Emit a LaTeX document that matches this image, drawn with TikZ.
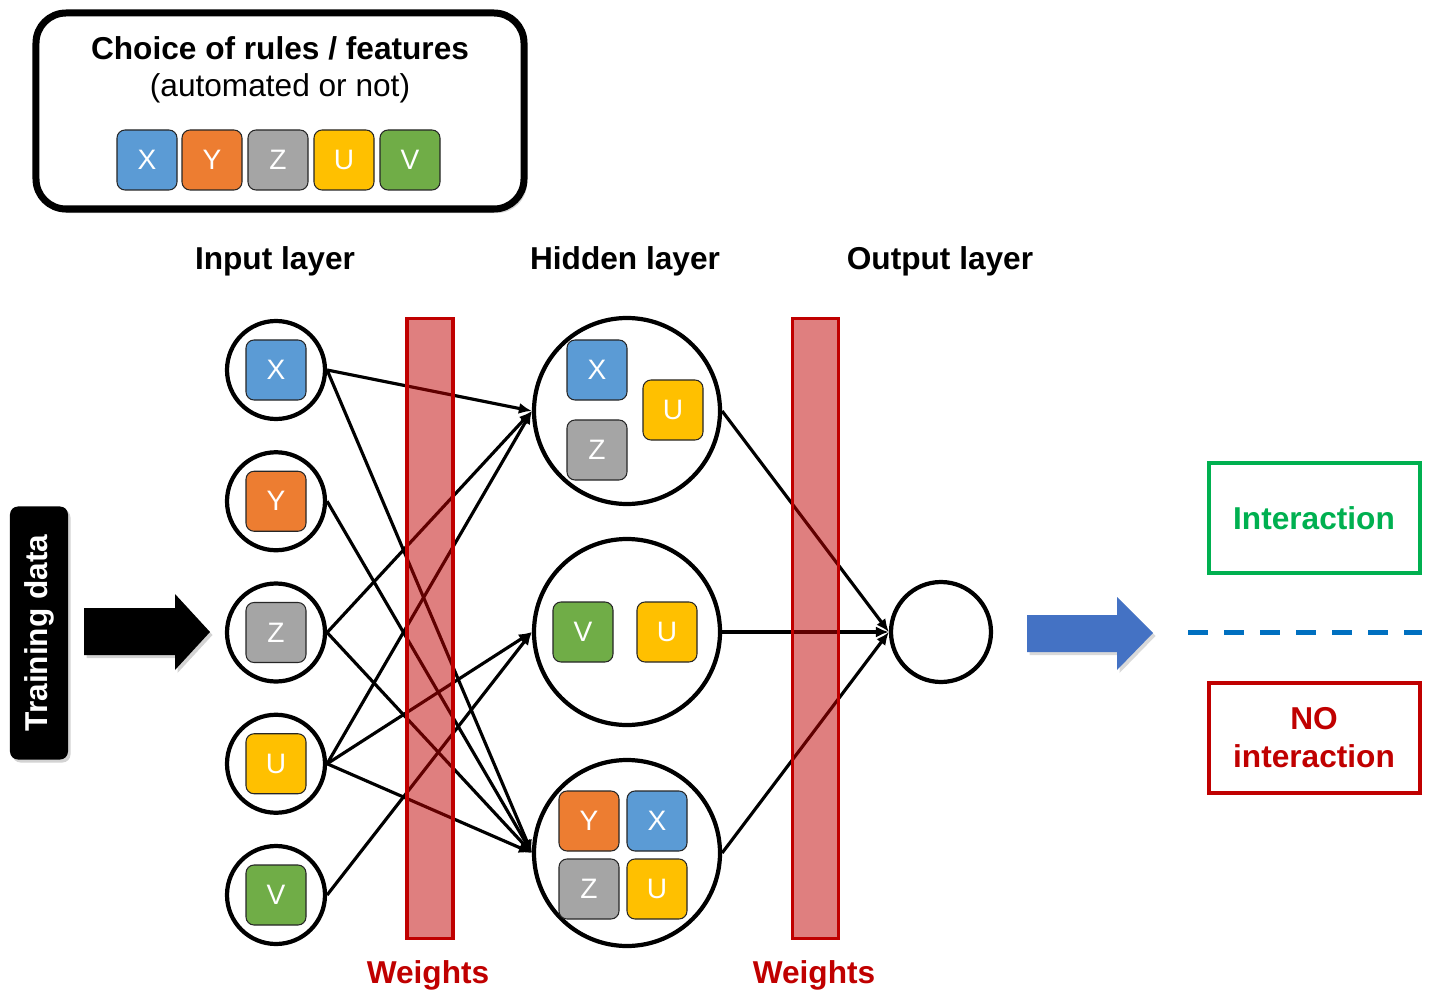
\documentclass[tikz,border=0pt]{standalone}
\usepackage{fontspec}
\setmainfont{Liberation Sans}
\usetikzlibrary{positioning,arrows.meta,shadows}

\definecolor{cX}{HTML}{5B9BD5}
\definecolor{cY}{HTML}{ED7D31}
\definecolor{cZ}{HTML}{A5A5A5}
\definecolor{cU}{HTML}{FFC000}
\definecolor{cV}{HTML}{70AD47}
\definecolor{wred}{HTML}{C00000}
\definecolor{igreen}{HTML}{00B050}
\definecolor{dblue}{HTML}{0070C0}
\definecolor{ablue}{HTML}{4472C4}

\tikzset{lbl/.style={font=\fontsize{18}{21.6}\selectfont\bfseries}}
\tikzset{sq/.style={draw=black!85, line width=0.6pt, rounded corners=1.6mm, minimum size=12mm, inner sep=0pt, text=white, font=\fontsize{16}{19}\selectfont}}
\tikzset{fX/.style={sq, fill=cX}}
\tikzset{fY/.style={sq, fill=cY}}
\tikzset{fZ/.style={sq, fill=cZ}}
\tikzset{fU/.style={sq, fill=cU}}
\tikzset{fV/.style={sq, fill=cV}}
\tikzset{edge/.style={line width=1.8pt, -{Latex[length=2.6mm,width=2.2mm]}}}
\tikzset{bar/.style={draw=wred, line width=2pt, fill=wred, fill opacity=0.5, minimum width=9.2mm, minimum height=124mm, inner sep=0pt}}
\tikzset{res/.style={lbl, line width=0.8mm, minimum width=42.2mm, minimum height=22mm, align=center}}

\begin{document}
\begin{tikzpicture}[x=0.2mm,y=-0.2mm,node distance={26.25mm},main/.style={draw, circle, fill=white, line width=2.4pt, inner sep=0pt, minimum size=19.6mm}]
    \useasboundingbox (0,0) rectangle (1436,993);

    \node[draw, line width=1.4mm, rounded corners=6mm, minimum width=97.6mm, minimum height=39.2mm, fill=white, drop shadow={opacity=0.35, shadow xshift=0.6mm, shadow yshift=-0.8mm}] (box) at (280,111) {};
    \node[lbl] (t1) at (280,48) {Choice of rules / features};
    \node[font=\fontsize{18}{21.6}\selectfont] (t2) at (280,88) {(automated or not)};
    \node[fX] (bx) at (147,160) {X};
    \node[fY] (by) at (212,160) {Y};
    \node[fZ] (bz) at (278,160) {Z};
    \node[fU] (bu) at (344,160) {U};
    \node[fV] (bv) at (410,160) {V};

    \node[lbl] (l1) at (275,261) {Input layer};
    \node[lbl] (l2) at (625,261) {Hidden layer};
    \node[lbl] (l3) at (940,261) {Output layer};

    \node[main] (1) at (276,370) {};
    \node[main] (2) [below of=1] {};
    \node[main] (3) [below of=2] {};
    \node[main] (4) [below of=3] {};
    \node[main] (5) [below of=4] {};
    \node[fX] (1x) at (1) {X};
    \node[fY] (2y) at (2) {Y};
    \node[fZ] (3z) at (3) {Z};
    \node[fU] (4u) at (4) {U};
    \node[fV] (5v) at (5) {V};

    \node[main, minimum size=37.2mm] (6) at (627,411) {};
    \node[main, minimum size=37.2mm] (7) at (627,632) {};
    \node[main, minimum size=37.2mm] (8) at (627,853) {};
    \node[fX] (6x) at (597,370) {X};
    \node[fZ] (6z) at (597,450) {Z};
    \node[fU] (6u) at (673,410) {U};
    \node[fV] (7v) at (583,632) {V};
    \node[fU] (7u) at (667,632) {U};
    \node[fY] (8y) at (589,821) {Y};
    \node[fX] (8x) at (657,821) {X};
    \node[fZ] (8z) at (589,889) {Z};
    \node[fU] (8u) at (657,889) {U};

    \node[main, minimum size=20mm] (9) at (941,632) {};

    \draw[edge] (1.east) -- (6.west);
    \draw[edge] (1.east) -- (8.west);
    \draw[edge] (2.east) -- (8.west);
    \draw[edge] (3.east) -- (6.west);
    \draw[edge] (3.east) -- (8.west);
    \draw[edge] (4.east) -- (6.west);
    \draw[edge] (4.east) -- (7.west);
    \draw[edge] (4.east) -- (8.west);
    \draw[edge] (5.east) -- (7.west);
    \draw[edge] (6.east) -- (9.west);
    \draw[edge] (7.east) -- (9.west);
    \draw[edge] (8.east) -- (9.west);

    \node[bar] (w1) at (430,628.5) {};
    \node[bar] (w2) at (815.5,628.5) {};
    \node[lbl, text=wred] (wl1) at (428,975) {Weights};
    \node[lbl, text=wred] (wl2) at (814,975) {Weights};

    \node[lbl, fill=black, text=white, rounded corners=1.6mm, rotate=90, minimum width=50.6mm, minimum height=11.6mm, drop shadow={opacity=0.35, shadow xshift=0.5mm, shadow yshift=-0.6mm}] (td) at (39,633) {Training data};
    \fill[black, drop shadow={opacity=0.35, shadow xshift=0.5mm, shadow yshift=-0.6mm}] (84,608) -- (175,608) -- (175,594) -- (210,632) -- (175,670) -- (175,655) -- (84,655) -- cycle;
    \fill[ablue, drop shadow={opacity=0.3, shadow xshift=0.5mm, shadow yshift=-0.6mm}] (1027,615) -- (1117,615) -- (1117,597) -- (1153,633) -- (1117,670) -- (1117,652) -- (1027,652) -- cycle;

    \node[res, draw=igreen, text=igreen] (yes) at (1314,518) {Interaction};
    \node[res, draw=wred, text=wred] (no) at (1314,738) {NO\\interaction};
    \coordinate (d1) at (1188,632);
    \coordinate (d2) at (1422,632);
    \draw[dblue, line width=1mm, dash pattern=on 4mm off 3.2mm] (d1) -- (d2);
\end{tikzpicture}
\end{document}
